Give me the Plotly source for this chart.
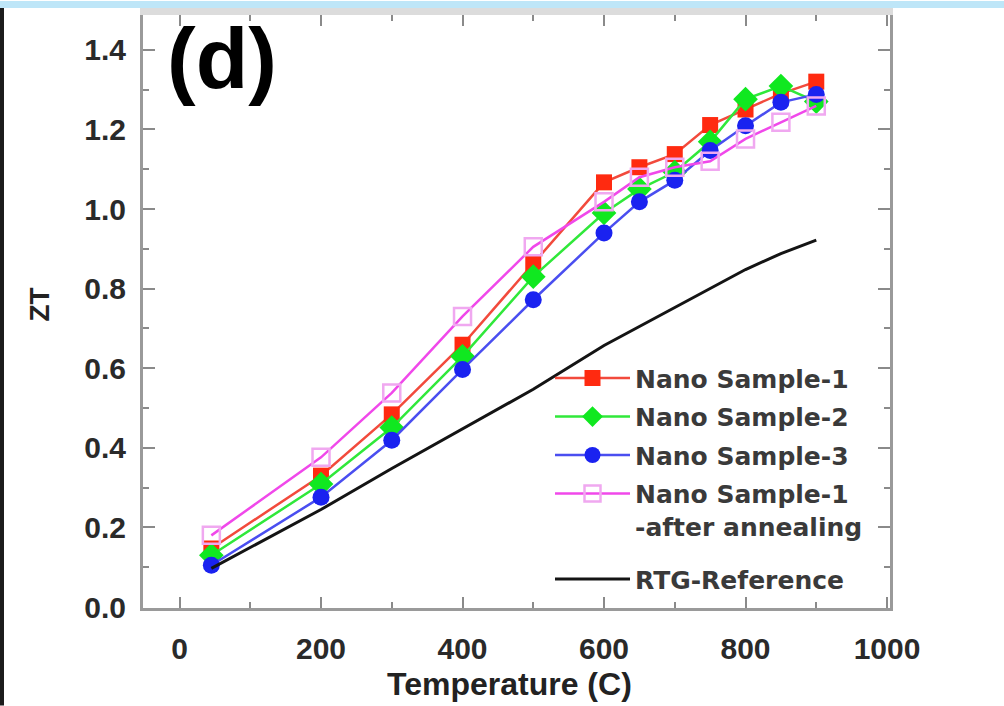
import plotly.graph_objects as go

# ---- data ----
temp = [45, 200, 300, 400, 500, 600, 650, 700, 750, 800, 850, 900]
nano1 = [0.147, 0.330, 0.484, 0.659, 0.863, 1.067, 1.105, 1.138, 1.211, 1.250, 1.290, 1.320]
nano2 = [0.130, 0.309, 0.451, 0.630, 0.830, 0.990, 1.050, 1.093, 1.169, 1.276, 1.309, 1.270]
nano3 = [0.105, 0.276, 0.419, 0.597, 0.772, 0.940, 1.018, 1.072, 1.147, 1.209, 1.268, 1.288]
nano1_ann = [0.180, 0.376, 0.538, 0.730, 0.905, 1.018, 1.080, 1.105, 1.120, 1.176, 1.218, 1.259]
rtg_temp = [45, 200, 300, 400, 500, 600, 700, 800, 850, 900]
rtg = [0.097, 0.245, 0.348, 0.447, 0.547, 0.657, 0.752, 0.848, 0.888, 0.922]

names = ["Nano Sample-1", "Nano Sample-2", "Nano Sample-3",
         "Nano Sample-1<br>-after annealing", "RTG-Reference"]
x_ticks = [0, 200, 400, 600, 800, 1000]
y_ticks = [0.0, 0.2, 0.4, 0.6, 0.8, 1.0, 1.2, 1.4]
y_tick_text = ["0.0", "0.2", "0.4", "0.6", "0.8", "1.0", "1.2", "1.4"]

W, H = 1004, 706
L, R, T, B = 143, 114, 12, 98
PW, PH = W - L - R, H - T - B

fig = go.Figure()
fig.add_trace(go.Scatter(x=temp, y=nano1, name=names[0], mode="lines+markers",
                         line=dict(color="#f24a3c", width=2.5),
                         marker=dict(symbol="square", size=16, color="#ff2a10"),
                         legendgroup="a"))
fig.add_trace(go.Scatter(x=temp, y=nano2, name=names[1], mode="lines+markers",
                         line=dict(color="#30e83a", width=2.5),
                         marker=dict(symbol="diamond", size=19, color="#10e820"),
                         legendgroup="b"))
fig.add_trace(go.Scatter(x=temp, y=nano3, name=names[2], mode="lines+markers",
                         line=dict(color="#4a4ef0", width=2.5),
                         marker=dict(symbol="circle", size=17, color="#1a22f0"),
                         legendgroup="c"))
fig.add_trace(go.Scatter(x=temp, y=nano1_ann, name=names[3], mode="lines+markers",
                         line=dict(color="#f048ea", width=2.5),
                         marker=dict(symbol="square-open", size=17, color="#f0a8f0",
                                     line=dict(width=2.5, color="#f0a8f0")),
                         legendgroup="d"))
fig.add_trace(go.Scatter(x=rtg_temp, y=rtg, name=names[4], mode="lines",
                         line=dict(color="#141414", width=3),
                         legendgroup="e", legend="legend2"))

axis_common = dict(showline=True, linecolor="#9a9a9a", linewidth=3, mirror="ticks",
                   ticks="inside", tickcolor="#8a8a8a", tickwidth=2,
                   showgrid=False, zeroline=False,
                   tickfont=dict(family="Liberation Sans", size=30, color="#2a2a2a", weight="bold"))

fig.update_xaxes(range=[-51.6, 1004.2], tickvals=x_ticks, ticklen=11,
                 ticklabelstandoff=12,
                 minor=dict(dtick=100, ticks="inside", ticklen=6, tickcolor="#8a8a8a", tickwidth=2),
                 **axis_common)
fig.update_yaxes(range=[-0.0025, 1.4875], tickvals=y_ticks, ticktext=y_tick_text, ticklen=12,
                 ticklabelstandoff=8,
                 minor=dict(dtick=0.1, ticks="inside", ticklen=6, tickcolor="#8a8a8a", tickwidth=2),
                 **axis_common)

shapes = [
    # light gray band on top of frame
    dict(type="rect", xref="paper", yref="paper", x0=-3 / PW, x1=1 + 3 / PW,
         y0=1, y1=1 + 7 / PH, fillcolor="#dcdcdc", line=dict(width=0), layer="above"),
    # light blue strip at top of picture
    dict(type="rect", xref="paper", yref="paper", x0=-L / PW, x1=1 + R / PW,
         y0=1 + 7 / PH, y1=1 + (T + 2) / PH, fillcolor="#bee6f8", line=dict(width=0)),
    # dark strip at left edge
    dict(type="rect", xref="paper", yref="paper", x0=-L / PW, x1=(-L + 4) / PW,
         y0=-B / PH, y1=1 + 7 / PH, fillcolor="#1c1c1c", line=dict(width=0)),
]

annotations = [
    dict(text="(d)", xref="paper", yref="paper", x=(221.5 - L) / PW, y=(H - B - 55) / PH,
         xanchor="center", yanchor="middle", showarrow=False,
         font=dict(family="Liberation Sans", size=86, color="#000000", weight="bold")),
    dict(text="ZT", xref="paper", yref="paper", x=(40 - L) / PW, y=(H - B - 303) / PH,
         xanchor="center", yanchor="middle", showarrow=False, textangle=-90,
         font=dict(family="Liberation Sans", size=28, color="#222222", weight="bold")),
    dict(text="Temperature (C)", xref="paper", yref="paper", x=(509 - L) / PW,
         y=(H - B - 684) / PH, xanchor="center", yanchor="middle", showarrow=False,
         font=dict(family="Liberation Sans", size=32, color="#222222", weight="bold")),
]

legend_font = dict(family="DejaVu Sans", size=25, color="#3a3a3a", weight="bold")
fig.update_layout(
    width=W, height=H,
    margin=dict(l=L, r=R, t=T, b=B),
    paper_bgcolor="white", plot_bgcolor="white",
    showlegend=True,
    legend=dict(x=(550 - L) / PW, y=(H - B - 354) / PH, xanchor="left", yanchor="top",
                bgcolor="rgba(0,0,0,0)", itemwidth=75, tracegroupgap=3, valign="top",
                font=legend_font),
    legend2=dict(x=(550 - L) / PW, y=(H - B - 556) / PH, xanchor="left", yanchor="top",
                 bgcolor="rgba(0,0,0,0)", itemwidth=75, valign="top",
                 font=legend_font),
    shapes=shapes,
    annotations=annotations,
)

fig.write_html("out.html", config={"displayModeBar": False},
               post_script="document.body.style.margin='0px';document.body.style.overflow='hidden';")
